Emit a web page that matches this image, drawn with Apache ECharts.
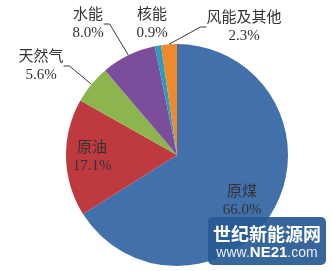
<!DOCTYPE html>
<html><head><meta charset="utf-8">
<script src="https://cdn.jsdelivr.net/npm/echarts@6/dist/echarts.min.js"></script>
<style>html,body{margin:0;padding:0;background:#fff}#c{width:332px;height:271px}</style>
</head><body><div id="c"></div>
<script>
const categories = ['原煤', '原油', '天然气', '水能', '核能', '风能及其他'];
const shares = [66.0, 17.1, 5.6, 8.0, 0.9, 2.3];
const colors = ['#4170ab', '#bf3a3f', '#8cb54f', '#7a4e9a', '#2b9bbf', '#ee8a2c'];
// label block centres (layout only)
const labelPos = [[242, 201], [92, 157], [41, 66], [88, 24], [152, 24], [244, 27]];
const outside = [false, false, true, true, true, true];
const showLine = [false, false, true, true, false, true];

const chart = echarts.init(document.getElementById('c'), null, {renderer: 'canvas'});
const font = "'Liberation Serif', 'Noto Sans CJK SC', serif";
chart.setOption({
  animation: false,
  series: [{
    type: 'pie',
    center: [177, 155],
    radius: 111,
    startAngle: 90,
    clockwise: true,
    avoidLabelOverlap: false,
    data: categories.map((n, i) => ({
      name: n, value: shares[i],
      itemStyle: {color: colors[i]},
      label: {position: outside[i] ? 'outside' : 'inside'},
      labelLine: {show: showLine[i]}
    })),
    label: {
      formatter: p => p.name + '\n' + p.value.toFixed(1) + '%',
      fontFamily: font, fontSize: 15, lineHeight: 18, color: '#333', align: 'center'
    },
    labelLine: {length: 8, length2: 6, lineStyle: {color: '#3a3a3a', width: 1}},
    labelLayout: p => ({
      x: labelPos[p.dataIndex][0], y: labelPos[p.dataIndex][1],
      align: 'center', verticalAlign: 'middle'
    })
  }],
  graphic: [{
    type: 'group', left: 208, top: 217, z: 100,
    children: [
      {type: 'rect', z: 100, shape: {x: 0, y: 0, width: 118, height: 48, r: 5},
       style: {fill: 'rgba(40,90,150,0.93)'}},
      {type: 'text', z: 101, x: 59, y: 17, style: {text: '世纪新能源网', fill: '#fff',
        font: "bold 18px 'Noto Sans CJK SC'", align: 'center', verticalAlign: 'middle'}},
      {type: 'text', z: 101, x: 59, y: 36, style: {
        text: '{a|www.}{b|NE21}{a|.com}', align: 'center', verticalAlign: 'middle',
        rich: {a: {fill: '#e8eef6', fontSize: 14, fontFamily: 'Arial, Liberation Sans'},
               b: {fill: '#fff', fontSize: 15, fontWeight: 'bold', fontFamily: 'Arial, Liberation Sans'}}}}
    ]
  }]
});
</script></body></html>
